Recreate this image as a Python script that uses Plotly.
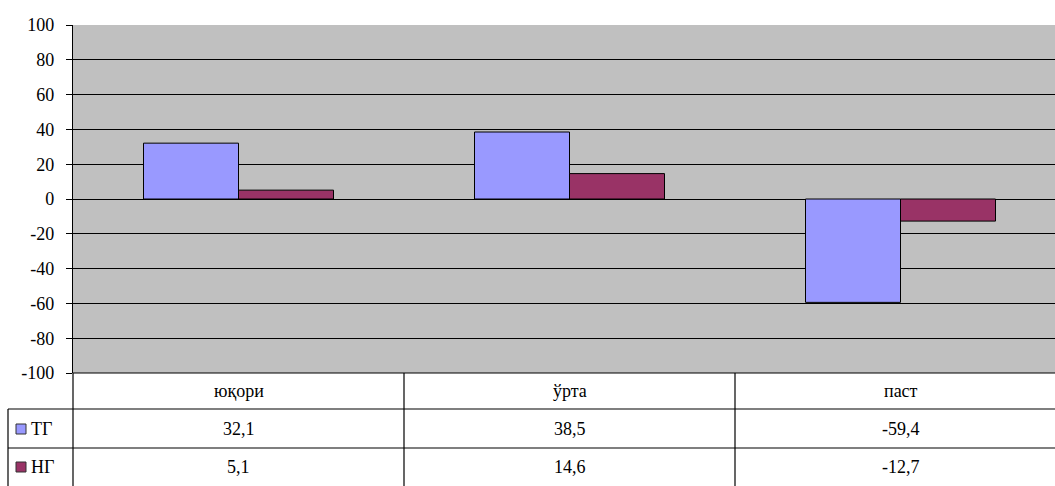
import plotly.graph_objects as go

categories = ["юқори", "ўрта", "паст"]
series_names = ["ТГ", "НГ"]
tg_values = [32.1, 38.5, -59.4]
ng_values = [5.1, 14.6, -12.7]
tg_labels = ["32,1", "38,5", "-59,4"]
ng_labels = ["5,1", "14,6", "-12,7"]
y_ticks = [100, 80, 60, 40, 20, 0, -20, -40, -60, -80, -100]
colors = ["#9999FF", "#993366"]

W, H = 1055, 486
ML, MR, MT, MB = 73, 0, 25, 113
plot_w = W - ML - MR
plot_h = H - MT - MB
cat_w = 331.0

xs = list(range(len(categories)))
fig = go.Figure()
for name, vals, col in zip(series_names, [tg_values, ng_values], colors):
    fig.add_trace(go.Bar(x=xs, y=vals, name=name, marker=dict(color=col, line=dict(color="black", width=1))))

font = dict(family="'Liberation Serif', 'Times New Roman', 'DejaVu Serif', serif", size=18, color="black")

def py(p):
    return (H - MB - p) / plot_h

def px(p):
    return (p - ML) / plot_w

shapes = []
annotations = []
line = dict(color="black", width=1.2)
shapes.append(dict(type="line", xref="paper", yref="paper", x0=0, x1=1, y0=py(373), y1=py(373), line=line))
for yy in (409, 448):
    shapes.append(dict(type="line", xref="paper", yref="paper", x0=px(8), x1=1, y0=py(yy), y1=py(yy), line=line))
shapes.append(dict(type="line", xref="paper", yref="paper", x0=px(8), x1=px(8), y0=py(409), y1=py(490), line=line))
shapes.append(dict(type="line", xref="paper", yref="paper", x0=0, x1=0, y0=py(373), y1=py(490), line=line))
for b in (0.5, 1.5):
    shapes.append(dict(type="line", xref="x", yref="paper", x0=b, x1=b, y0=py(373), y1=py(490), line=line))

for i, c in enumerate(categories):
    annotations.append(dict(x=i, y=py(391), xref="x", yref="paper", text=c, showarrow=False, font=font,
                            xanchor="center", yanchor="middle"))
for row_center, labels in zip([429, 467], [tg_labels, ng_labels]):
    for i, t in enumerate(labels):
        annotations.append(dict(x=i, y=py(row_center), xref="x", yref="paper", text=t, showarrow=False, font=font,
                                xanchor="center", yanchor="middle"))
for row_center, name, col in zip([429, 467], series_names, colors):
    shapes.append(dict(type="rect", xref="paper", yref="paper", x0=px(16), x1=px(26), y0=py(row_center + 5), y1=py(row_center - 5),
                       fillcolor=col, line=dict(color="#333333", width=1)))
    annotations.append(dict(x=px(29), y=py(row_center), xref="paper", yref="paper", text=name, showarrow=False,
                            xanchor="left", yanchor="middle", font=font))

fig.update_layout(
    width=W, height=H,
    margin=dict(l=ML, r=MR, t=MT, b=MB, pad=0, autoexpand=False),
    paper_bgcolor="white", plot_bgcolor="#C0C0C0",
    barmode="group", bargap=0.426, bargroupgap=0,
    showlegend=False,
    font=font,
    shapes=shapes, annotations=annotations,
    xaxis=dict(range=[-0.5, -0.5 + plot_w / cat_w], showticklabels=False, showgrid=False, zeroline=False,
               showline=False, ticks="", automargin=False),
    yaxis=dict(range=[-100, 100], tickvals=y_ticks, ticktext=[str(v) for v in y_ticks],
               showgrid=True, gridcolor="black", gridwidth=1,
               zeroline=True, zerolinecolor="black", zerolinewidth=1,
               showline=True, linecolor="black", linewidth=1.2, ticks="outside", ticklen=6, tickcolor="black",
               tickfont=font, ticklabelstandoff=8, automargin=False),
)

fig.write_html("out.html", config={"displayModeBar": False},
               post_script="document.body.style.margin='0';document.body.style.overflow='hidden';")
